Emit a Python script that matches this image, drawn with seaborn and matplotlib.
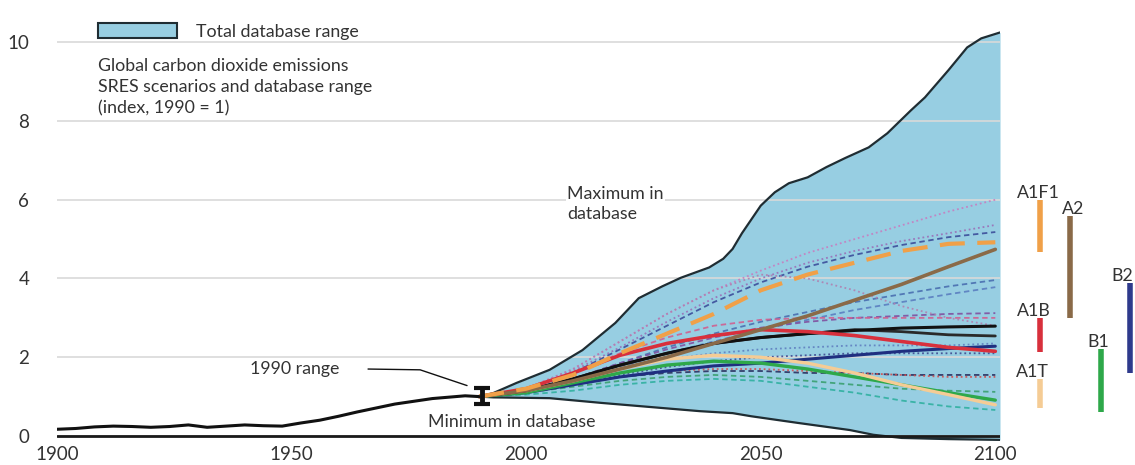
import numpy as np
import pandas as pd
import seaborn as sns
import matplotlib.pyplot as plt
from matplotlib.patches import Patch

# ---------------- data ----------------
hist_years = [1900, 1904, 1908, 1912, 1916, 1920, 1924, 1928, 1932, 1936, 1940,
              1944, 1948, 1952, 1956, 1960, 1964, 1968, 1972, 1976, 1980,
              1984, 1987, 1990]
hist_index = [0.17, 0.19, 0.23, 0.25, 0.24, 0.22, 0.24, 0.28, 0.22, 0.25, 0.28,
              0.26, 0.25, 0.33, 0.40, 0.50, 0.61, 0.71, 0.81, 0.88, 0.95,
              0.99, 1.02, 1.00]

range_1990 = (0.80, 1.23)

max_years = [1990, 1993, 1998, 2005, 2012, 2019, 2024, 2029, 2033, 2039, 2042,
             2044, 2046, 2048, 2050, 2053, 2056, 2060, 2064, 2068, 2073, 2077,
             2082, 2085, 2090, 2094, 2097, 2101]
max_index = [1.00, 1.09, 1.35, 1.68, 2.18, 2.87, 3.50, 3.80, 4.02, 4.28, 4.50,
             4.75, 5.15, 5.50, 5.85, 6.19, 6.42, 6.57, 6.83, 7.06, 7.33, 7.69,
             8.27, 8.60, 9.29, 9.87, 10.10, 10.25]

min_years = [1990, 1993, 2005, 2016, 2026, 2037, 2044, 2048, 2058, 2069, 2074,
             2080, 2090, 2101]
min_index = [1.00, 0.98, 0.96, 0.84, 0.74, 0.63, 0.58, 0.50, 0.33, 0.15, 0.03,
             -0.05, -0.08, -0.10]

years = [1990, 2000, 2010, 2020, 2030, 2040, 2050, 2060, 2070, 2080, 2090, 2100]

# SRES marker scenarios
a1fi = [1.0, 1.2, 1.55, 2.1, 2.6, 3.1, 3.7, 4.1, 4.4, 4.7, 4.88, 4.92]
a2 = [1.0, 1.15, 1.4, 1.7, 2.0, 2.35, 2.7, 3.05, 3.45, 3.85, 4.3, 4.74]
a1b = [1.0, 1.2, 1.6, 2.05, 2.35, 2.55, 2.7, 2.65, 2.55, 2.4, 2.25, 2.15]
a1t = [1.0, 1.15, 1.4, 1.7, 1.95, 2.05, 2.0, 1.85, 1.6, 1.3, 1.05, 0.79]
b1 = [1.0, 1.1, 1.35, 1.6, 1.8, 1.9, 1.85, 1.7, 1.5, 1.3, 1.1, 0.91]
b2 = [1.0, 1.1, 1.3, 1.5, 1.65, 1.78, 1.85, 1.95, 2.05, 2.15, 2.22, 2.28]
black_a = [1.0, 1.15, 1.45, 1.8, 2.1, 2.35, 2.5, 2.6, 2.68, 2.74, 2.77, 2.79]
black_b = [1.0, 1.15, 1.45, 1.8, 2.1, 2.35, 2.5, 2.6, 2.7, 2.65, 2.57, 2.54]

# other scenarios in the database
others = [
    [1.0, 1.2, 1.7, 2.4, 3.1, 3.7, 4.2, 4.65, 5.0, 5.35, 5.7, 6.0],
    [1.0, 1.2, 1.65, 2.25, 2.9, 3.5, 4.0, 4.4, 4.7, 4.95, 5.15, 5.36],
    [1.0, 1.2, 1.6, 2.2, 2.8, 3.4, 3.9, 4.3, 4.6, 4.85, 5.05, 5.18],
    [1.0, 1.15, 1.45, 1.85, 2.25, 2.6, 2.9, 3.15, 3.4, 3.6, 3.8, 3.96],
    [1.0, 1.15, 1.4, 1.75, 2.1, 2.4, 2.7, 2.95, 3.2, 3.4, 3.6, 3.78],
    [1.0, 1.15, 1.45, 1.85, 2.2, 2.5, 2.75, 2.9, 3.0, 3.05, 3.1, 3.12],
    [1.0, 1.2, 1.6, 2.1, 2.5, 2.8, 2.95, 3.0, 3.0, 3.0, 3.0, 3.0],
    [1.0, 1.2, 1.7, 2.4, 3.1, 3.7, 4.1, 4.0, 3.7, 3.3, 3.0, 2.8],
    [1.0, 1.1, 1.3, 1.5, 1.6, 1.65, 1.65, 1.6, 1.6, 1.55, 1.55, 1.55],
    [1.0, 1.1, 1.3, 1.5, 1.65, 1.7, 1.7, 1.65, 1.6, 1.55, 1.5, 1.5],
    [1.0, 1.1, 1.25, 1.4, 1.5, 1.55, 1.5, 1.4, 1.3, 1.2, 1.15, 1.12],
    [1.0, 1.05, 1.15, 1.3, 1.4, 1.45, 1.4, 1.25, 1.1, 0.9, 0.75, 0.66],
    [1.0, 1.15, 1.4, 1.7, 1.95, 2.1, 2.2, 2.25, 2.3, 2.3, 2.3, 2.35],
    [1.0, 1.1, 1.3, 1.55, 1.75, 1.9, 2.0, 2.05, 2.1, 2.1, 2.1, 2.1],
]

# 2100 range per scenario family
family_names = ["A1F1", "A2", "A1B", "A1T", "B1", "B2"]
family_low = [4.67, 3.0, 2.13, 0.70, 0.60, 1.60]
family_high = [6.0, 5.6, 3.0, 1.45, 2.2, 3.88]

# ---------------- styles ----------------
fill_color = "#97cee2"
edge_color = "#1f2d33"
text_color = "#333333"
other_styles = [
    ("#c77dc0", (1, 1.6)), ("#9a70b8", (1, 1.6)), ("#3b4d9a", (3, 2)),
    ("#4a6fb0", (3, 2)), ("#5a7ec0", (3, 2)), ("#8050a0", (3, 2)),
    ("#d06090", (3, 2)), ("#b080b0", (1, 1.6)), ("#2a3060", (3, 2)),
    ("#d05050", (1, 1.6)), ("#3aa070", (3, 2)), ("#30b0a0", (3, 2)),
    ("#6080c0", (1, 1.6)), ("#404a90", (1, 1.6)),
]
family_colors = ["#f0a048", "#8a6a48", "#d8303c", "#f5cc95", "#2ea84a", "#2e3a8c"]
family_xpos = [2109.5, 2116.0, 2109.5, 2109.5, 2122.5, 2128.8]
family_label_dx = [-0.3, 0.6, -1.3, -1.6, -0.6, -1.8]
label_size = 12.8

sns.set_theme(style="whitegrid")
plt.rcParams["font.family"] = ["Lato", "DejaVu Sans"]

fig = plt.figure(figsize=(11.35, 4.65), dpi=100)
ax = fig.add_axes([57 / 1135, 0.0523, 943 / 1135, 0.9075])
ax.set_xlim(1900, 2101)
ax.set_ylim(-0.12, 10.6)

# database envelope
grid_x = np.linspace(1990, 2101, 400)
upper = np.interp(grid_x, max_years, max_index)
lower = np.interp(grid_x, min_years, min_index)
ax.fill_between(grid_x, lower, upper, color=fill_color, linewidth=0, zorder=1)
sns.lineplot(x=max_years, y=max_index, color=edge_color, linewidth=1.6, ax=ax,
             zorder=3)
sns.lineplot(x=min_years, y=min_index, color=edge_color, linewidth=1.6, ax=ax,
             zorder=3)

# other scenarios (thin dashed / dotted)
for vals, (col, dash) in zip(others, other_styles):
    sns.lineplot(x=years, y=vals, color=col, linewidth=1.3,
                 linestyle=(0, dash), ax=ax, zorder=2, alpha=0.9)

# marker scenarios
sns.lineplot(x=years, y=b2, color="#1f2f80", linewidth=2.2, ax=ax, zorder=4)
sns.lineplot(x=years, y=b1, color="#2ea84a", linewidth=2.4, ax=ax, zorder=4)
sns.lineplot(x=years, y=a1t, color="#f5cc95", linewidth=2.4, ax=ax, zorder=4)
sns.lineplot(x=years, y=black_b, color="#2a2a2a", linewidth=2.0, ax=ax, zorder=4)
sns.lineplot(x=years, y=black_a, color="#111111", linewidth=2.2, ax=ax, zorder=4)
sns.lineplot(x=years, y=a1b, color="#d8303c", linewidth=2.6, ax=ax, zorder=4)
sns.lineplot(x=years, y=a2, color="#8a6a48", linewidth=2.6, ax=ax, zorder=4)
sns.lineplot(x=years, y=a1fi, color="#f0a048", linewidth=3.0,
             linestyle=(0, (6, 3)), ax=ax, zorder=5)

# historical emissions
sns.lineplot(x=hist_years, y=hist_index, color="#111111", linewidth=2.2, ax=ax,
             zorder=5)

# 1990 range
mid_1990 = sum(range_1990) / 2
ax.errorbar([1990.5], [mid_1990],
            yerr=[[mid_1990 - range_1990[0]], [range_1990[1] - mid_1990]],
            fmt="none", ecolor="#111111", elinewidth=3.5, capsize=6,
            capthick=3, zorder=6)
ax.plot([1966.3, 1977.4, 1987.4], [1.70, 1.68, 1.28], color="#111111",
        linewidth=1.0, zorder=6)
ax.text(1950.7, 1.70, "1990 range", ha="center", va="center",
        fontsize=label_size, color=text_color)

# baseline
ax.axhline(0, color="#1a1a1a", linewidth=2.0, zorder=3)

# scenario family ranges in 2100
for name, lo, hi, col, xp, dx in zip(family_names, family_low, family_high,
                                     family_colors, family_xpos,
                                     family_label_dx):
    ax.plot([xp, xp], [lo, hi], color=col, linewidth=4.0, clip_on=False,
            solid_capstyle="butt", zorder=5)
    ax.text(xp + dx, hi + 0.05, name, ha="center", va="baseline",
            fontsize=label_size, color=text_color, clip_on=False)

# annotations
ax.text(1908.7, 9.6,
        "Global carbon dioxide emissions\nSRES scenarios and database range\n(index, 1990 = 1)",
        ha="left", va="top", fontsize=label_size, color=text_color,
        linespacing=1.38)
ax.text(2008.7, 6.36, "Maximum in\ndatabase", ha="left", va="top",
        fontsize=label_size, color=text_color, linespacing=1.35,
        bbox=dict(facecolor="white", edgecolor="none", pad=1))
ax.text(1979.1, 0.36, "Minimum in database", ha="left", va="center",
        fontsize=label_size, color=text_color)

legend_handle = Patch(facecolor=fill_color, edgecolor=edge_color, linewidth=1.5,
                      label="Total database range")
ax.legend(handles=[legend_handle], loc="upper left",
          bbox_to_anchor=(0.027, 1.028), frameon=False, fontsize=label_size,
          handlelength=4.4, handleheight=0.95, handletextpad=1.1,
          labelcolor=text_color)

# axes styling
ax.set_xticks([1900, 1950, 2000, 2050, 2100])
ax.set_yticks([0, 2, 4, 6, 8, 10])
ax.tick_params(axis="y", labelsize=13.5, labelcolor=text_color, pad=20, length=0)
ax.tick_params(axis="x", labelsize=13.5, labelcolor=text_color, pad=4, length=0)
ax.grid(axis="x", visible=False)
ax.grid(axis="y", color="#d9d9d9", linewidth=1.2)
ax.set_axisbelow("line")
for s in ax.spines.values():
    s.set_visible(False)
ax.set_xlabel("")
ax.set_ylabel("")

fig.savefig("out.png", dpi=100)
